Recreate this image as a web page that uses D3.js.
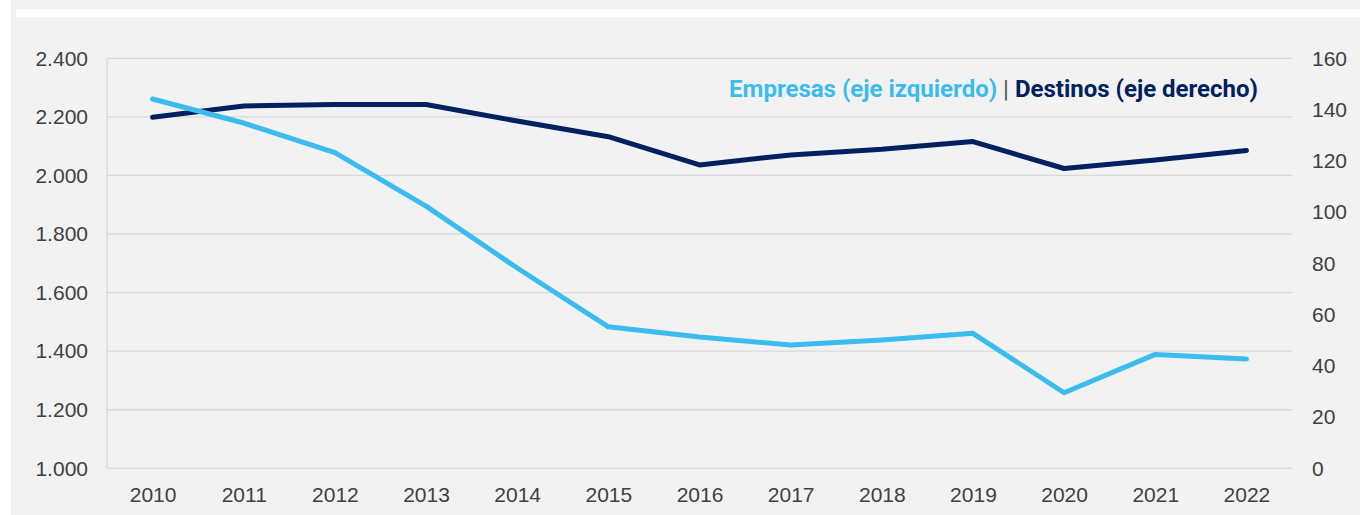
<!DOCTYPE html>
<html>
<head>
<meta charset="utf-8">
<script src="https://cdn.jsdelivr.net/npm/d3@7.9.0/dist/d3.min.js"></script>
<style>
  html, body { margin: 0; padding: 0; background: #fff; }
  svg { display: block; }
</style>
</head>
<body>
<svg id="chart"></svg>
<script>
const years = ["2010", "2011", "2012", "2013", "2014", "2015", "2016", "2017", "2018", "2019", "2020", "2021", "2022"];
const empresas = [2261, 2179, 2078, 1895, 1684, 1483, 1448, 1421, 1438, 1461, 1258, 1389, 1373];
const destinos = [137, 141.4, 142, 142, 135.5, 129.4, 118.4, 122.3, 124.5, 127.5, 117, 120.3, 124];
const leftTicks = [1000, 1200, 1400, 1600, 1800, 2000, 2200, 2400];
const rightTicks = [0, 20, 40, 60, 80, 100, 120, 140, 160];

const svgWidth = 1360;
const svgHeight = 515;
const margin = { top: 58.3, right: 68, bottom: 46.7, left: 107 };
const width = svgWidth - margin.left - margin.right;
const height = svgHeight - margin.top - margin.bottom;

const svg = d3.select("#chart")
    .attr("width", svgWidth)
    .attr("height", svgHeight);

// background panel
svg.append("rect")
    .attr("x", 11).attr("y", 0)
    .attr("width", svgWidth - 11).attr("height", svgHeight)
    .attr("fill", "#f2f2f2");
svg.append("rect")
    .attr("x", 16).attr("y", 9)
    .attr("width", svgWidth - 16).attr("height", 8)
    .attr("fill", "#ffffff");

const g = svg.append("g")
    .attr("transform", `translate(${margin.left}, ${margin.top})`);

const xScale = d3.scalePoint()
    .domain(years)
    .range([0, width])
    .padding(0.5);

const yLeft = d3.scaleLinear().domain([1000, 2400]).range([height, 0]);
const yRight = d3.scaleLinear().domain([0, 160]).range([height, 0]);

const axisFont = "'Liberation Sans', Arial, sans-serif";

// gridlines
g.selectAll(".grid")
    .data(leftTicks)
    .enter()
    .append("line")
    .attr("x1", 0)
    .attr("x2", width)
    .attr("y1", d => yLeft(d))
    .attr("y2", d => yLeft(d))
    .attr("stroke", "#d9d9d9")
    .attr("stroke-width", 1.3);

g.append("line")
    .attr("x1", 0).attr("x2", 0)
    .attr("y1", 0).attr("y2", height)
    .attr("stroke", "#d9d9d9")
    .attr("stroke-width", 1.3);

// axes
const leftAxis = g.append("g")
    .call(d3.axisLeft(yLeft).tickValues(leftTicks).tickSize(0).tickPadding(19)
        .tickFormat(d => d3.format(",")(d).replace(",", ".")));
const rightAxis = g.append("g")
    .attr("transform", `translate(${width}, 0)`)
    .call(d3.axisRight(yRight).tickValues(rightTicks).tickSize(0).tickPadding(20));
const bottomAxis = g.append("g")
    .attr("transform", `translate(0, ${height})`)
    .call(d3.axisBottom(xScale).tickSize(0).tickPadding(19));

[leftAxis, rightAxis, bottomAxis].forEach(ax => {
    ax.select(".domain").remove();
    ax.selectAll("text")
        .style("font-family", axisFont)
        .style("font-size", "21px")
        .attr("fill", "#404040");
});

// lines
const lineLeft = d3.line()
    .x((d, i) => xScale(years[i]))
    .y(d => yLeft(d));
const lineRight = d3.line()
    .x((d, i) => xScale(years[i]))
    .y(d => yRight(d));

g.append("path")
    .datum(destinos)
    .attr("d", lineRight)
    .attr("fill", "none")
    .attr("stroke", "#002060")
    .attr("stroke-width", 5)
    .attr("stroke-linecap", "round")
    .attr("stroke-linejoin", "round");

g.append("path")
    .datum(empresas)
    .attr("d", lineLeft)
    .attr("fill", "none")
    .attr("stroke", "#3bbcee")
    .attr("stroke-width", 5)
    .attr("stroke-linecap", "round")
    .attr("stroke-linejoin", "round");

// legend
const legend = svg.append("text")
    .attr("x", 1258)
    .attr("y", 97)
    .attr("text-anchor", "end")
    .style("font-family", "Roboto, sans-serif")
    .style("font-size", "24px");
legend.append("tspan")
    .attr("fill", "#3bbcee")
    .attr("font-weight", "bold")
    .text("Empresas (eje izquierdo)");
legend.append("tspan")
    .attr("fill", "#595959")
    .text(" | ");
legend.append("tspan")
    .attr("fill", "#002060")
    .attr("font-weight", "bold")
    .text("Destinos (eje derecho)");
</script>
</body>
</html>
